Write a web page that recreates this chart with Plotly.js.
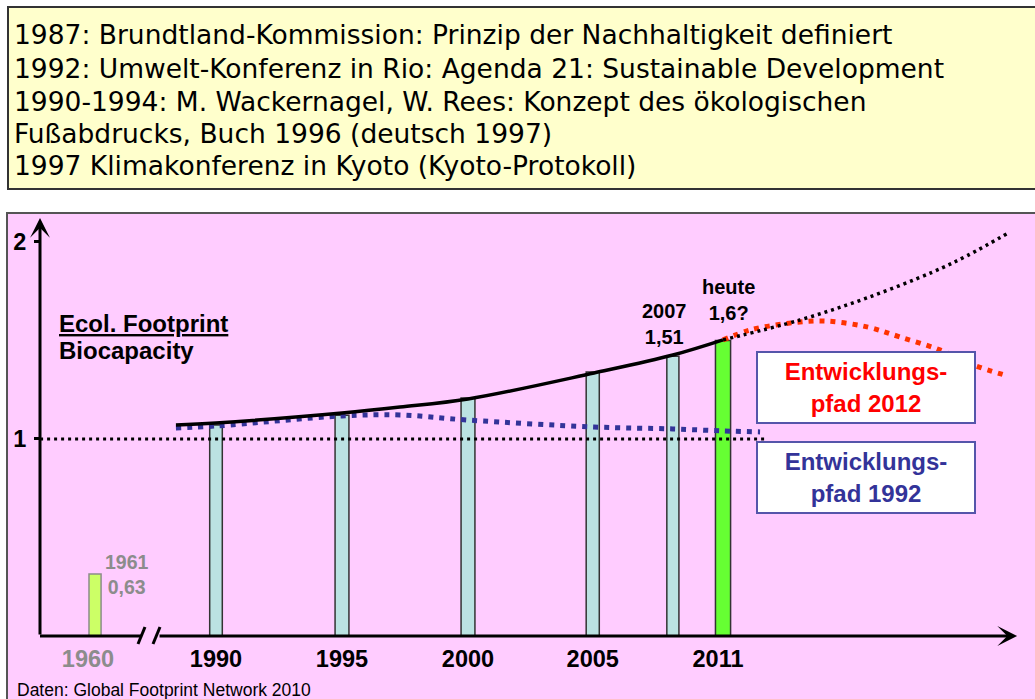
<!DOCTYPE html>
<html>
<head>
<meta charset="utf-8">
<script src="https://cdn.plot.ly/plotly-3.0.1.min.js"></script>
<style>
  html, body { margin: 0; padding: 0; background: #fff; }
  #chart { width: 1035px; height: 699px; }
</style>
</head>
<body>
<div id="chart"></div>
<script>
// Werte (Position = Lage auf der gezeichneten Zeitachse)
const barLabels = ['1961', '1990', '1995', '2000', '2005', '2007', '2011'];
const barPos = [1985.2, 1990, 1995, 2000, 2004.95, 2008.13, 2010.12];
const barValues = [0.315, 1.071, 1.12, 1.208, 1.34, 1.42, 1.50];
const barColors = ['#CCFF66', '#BBE2E2', '#BBE2E2', '#BBE2E2', '#BBE2E2', '#BBE2E2', '#66FF33'];
const barLineColors = ['#8c8c8c', '#333333', '#333333', '#333333', '#333333', '#333333', '#333333'];
const barWidths = [0.48, 0.5, 0.55, 0.55, 0.52, 0.48, 0.6];

const tickPos = [1984.92, 1990, 1995, 2000, 2004.95, 2009.92];
const tickText = ['<span style="color:#8c8c8c">1960</span>', '1990', '1995', '2000', '2005', '2011'];

// Ecol. Footprint (gemessen)
const footX = [1988.41, 1990, 1995, 1997.3, 2000, 2005, 2008.13, 2010.12];
const footY = [1.071, 1.081, 1.132, 1.162, 1.203, 1.335, 1.426, 1.503];

// Fortschreibung (schwarz gepunktet)
const trendX = [2010.12, 2013.17, 2015.83, 2018.45, 2019.8, 2021.51];
const trendY = [1.503, 1.604, 1.716, 1.848, 1.93, 2.051];

// Entwicklungspfad 2012 (rot)
const path2012X = [2010.12, 2011.19, 2012.5, 2014.09, 2015.83, 2017.14, 2018.73, 2020.04, 2021.43];
const path2012Y = [1.503, 1.553, 1.584, 1.599, 1.569, 1.518, 1.452, 1.376, 1.32];

// Entwicklungspfad 1992 (blau)
const path1992X = [1988.41, 1990, 1995, 1997.3, 2000, 2005, 2008.13, 2010.12, 2011.59];
const path1992Y = [1.056, 1.066, 1.117, 1.122, 1.096, 1.061, 1.051, 1.041, 1.036];

// Biocapacity
const bioX = [1983.02, 2011.9];
const bioY = [1, 1];

const yTicks = [1, 2];

const historyLines = [
    '1987: Brundtland-Kommission: Prinzip der Nachhaltigkeit definiert',
    '1992: Umwelt-Konferenz in Rio: Agenda 21: Sustainable Development',
    '1990-1994: M. Wackernagel, W. Rees: Konzept des ökologischen',
    'Fußabdrucks, Buch 1996 (deutsch 1997)',
    '1997 Klimakonferenz in Kyoto (Kyoto-Protokoll)'
];

const W = 1035, H = 699;
const M = { l: 40, r: 0, t: 214, b: 63 };
const xRange = [1983.016, 2022.5];
const yRange = [0, 2.142];
function paperX(p) { return (p - M.l) / (W - M.l - M.r); }
function paperY(p) { return (H - M.b - p) / (H - M.t - M.b); }

const ARIAL = 'Liberation Sans, Arial, sans-serif';

const traces = [
    {
        type: 'bar', x: barPos, y: barValues, width: barWidths,
        marker: { color: barColors, line: { color: barLineColors, width: 1.5 } },
        hoverinfo: 'skip', name: 'Ecol. Footprint'
    },
    {
        type: 'scatter', mode: 'lines', x: path1992X, y: path1992Y,
        line: { color: '#333399', width: 5, dash: '5px,6px', shape: 'spline' },
        name: 'Entwicklungspfad 1992'
    },
    {
        type: 'scatter', mode: 'lines', x: bioX, y: bioY,
        line: { color: '#000000', width: 3, dash: '3px,4px' },
        name: 'Biocapacity'
    },
    {
        type: 'scatter', mode: 'lines', x: footX, y: footY,
        line: { color: '#000000', width: 3.5, shape: 'spline' },
        name: 'Ecol. Footprint'
    },
    {
        type: 'scatter', mode: 'lines', x: path2012X, y: path2012Y,
        line: { color: '#FF3300', width: 5, dash: '5px,6px', shape: 'spline' },
        name: 'Entwicklungspfad 2012'
    },
    {
        type: 'scatter', mode: 'lines', x: trendX, y: trendY,
        line: { color: '#000000', width: 3.5, dash: '3px,4px', shape: 'spline' },
        name: 'Trend'
    }
];

// Text im gelben Kasten, eine Zeile je Annotation
const historyY = [35, 68, 101, 133, 166];
const annotations = historyLines.map((line, i) => ({
    xref: 'paper', yref: 'paper', x: paperX(12), y: paperY(historyY[i]),
    xanchor: 'left', yanchor: 'middle', align: 'left', showarrow: false,
    text: line,
    font: { family: 'DejaVu Sans, sans-serif', size: 26.5, color: '#000' }
}));

annotations.push(
    // Achsen mit Pfeilspitzen
    {
        xref: 'x', yref: 'y', axref: 'x', ayref: 'y',
        x: xRange[0], y: 2.122, ax: xRange[0], ay: 0, text: '',
        showarrow: true, arrowhead: 3, arrowsize: 1.1, arrowwidth: 3, arrowcolor: '#000'
    },
    {
        xref: 'x', yref: 'y', axref: 'x', ayref: 'y',
        x: 2021.79, y: 0, ax: 1987.7, ay: 0, text: '',
        showarrow: true, arrowhead: 3, arrowsize: 1.1, arrowwidth: 3, arrowcolor: '#000'
    },
    // Beschriftungen an den Balken
    {
        x: barPos[5], y: barValues[5], xshift: -8, yshift: 6, yanchor: 'bottom',
        text: '<b>2007<br>1,51</b>', showarrow: false,
        font: { family: ARIAL, size: 20, color: '#000' }
    },
    {
        x: barPos[6], y: barValues[6], xshift: 5, yshift: 14, yanchor: 'bottom',
        text: '<b>heute<br>1,6?</b>', showarrow: false,
        font: { family: ARIAL, size: 20, color: '#000' }
    },
    {
        x: barPos[0], y: barValues[0], xshift: 32, yshift: -1, yanchor: 'middle',
        text: '<b>1961<br>0,63</b>', showarrow: false,
        font: { family: ARIAL, size: 19.5, color: '#8c8c8c' }
    },
    // Legende links
    {
        xref: 'paper', yref: 'paper', x: paperX(57), y: paperY(323),
        xanchor: 'left', yanchor: 'middle', showarrow: false,
        text: '<b><u>Ecol. Footprint</u></b>',
        font: { family: ARIAL, size: 24, color: '#000' }
    },
    {
        xref: 'paper', yref: 'paper', x: paperX(57), y: paperY(350),
        xanchor: 'left', yanchor: 'middle', showarrow: false,
        text: '<b>Biocapacity</b>',
        font: { family: ARIAL, size: 24, color: '#000' }
    },
    // Kaesten rechts
    {
        xref: 'paper', yref: 'paper', x: paperX(866), y: paperY(387.5),
        xanchor: 'center', yanchor: 'middle', showarrow: false,
        width: 216, height: 69, borderpad: 0, borderwidth: 2,
        bordercolor: '#5555aa', bgcolor: '#ffffff',
        text: '<b>Entwicklungs-<br>pfad 2012</b>',
        font: { family: ARIAL, size: 24, color: '#FF0000' }
    },
    {
        xref: 'paper', yref: 'paper', x: paperX(866), y: paperY(477),
        xanchor: 'center', yanchor: 'middle', showarrow: false,
        width: 216, height: 69, borderpad: 0, borderwidth: 2,
        bordercolor: '#5555aa', bgcolor: '#ffffff',
        text: '<b>Entwicklungs-<br>pfad 1992</b>',
        font: { family: ARIAL, size: 24, color: '#333399' }
    },
    // Quelle
    {
        xref: 'paper', yref: 'paper', x: paperX(15), y: paperY(690),
        xanchor: 'left', yanchor: 'middle', showarrow: false,
        text: 'Daten: Global Footprint Network 2010',
        font: { family: ARIAL, size: 17.5, color: '#000' }
    }
);

const shapes = [
    // gelber Kasten oben
    {
        type: 'rect', xref: 'paper', yref: 'paper', layer: 'below',
        x0: paperX(8), x1: paperX(1045), y0: paperY(189), y1: paperY(7),
        fillcolor: '#FFFFCC', line: { color: '#333333', width: 2 }
    },
    // rosa Diagrammflaeche
    {
        type: 'rect', xref: 'paper', yref: 'paper', layer: 'below',
        x0: paperX(7), x1: paperX(1045), y0: paperY(710), y1: paperY(213),
        fillcolor: '#FFCCFF', line: { color: '#555555', width: 2 }
    },
    // linkes Stueck der x-Achse
    {
        type: 'line', xref: 'paper', yref: 'paper',
        x0: paperX(40), x1: paperX(142), y0: paperY(636), y1: paperY(636),
        line: { color: '#000', width: 3 }
    },
    // Achsenbruch //
    {
        type: 'line', xref: 'paper', yref: 'paper',
        x0: paperX(138), x1: paperX(145), y0: paperY(644), y1: paperY(627),
        line: { color: '#000', width: 3 }
    },
    {
        type: 'line', xref: 'paper', yref: 'paper',
        x0: paperX(153), x1: paperX(160), y0: paperY(644), y1: paperY(627),
        line: { color: '#000', width: 3 }
    }
];

const layout = {
    width: W, height: H,
    margin: M,
    paper_bgcolor: '#ffffff',
    plot_bgcolor: 'rgba(0,0,0,0)',
    showlegend: false,
    xaxis: {
        range: xRange, showgrid: false, zeroline: false, showline: false,
        tickmode: 'array', tickvals: tickPos, ticktext: tickText, ticks: '',
        tickfont: { family: ARIAL, size: 23.5, color: '#000', weight: 'bold' },
        ticklabelstandoff: 6, fixedrange: true
    },
    yaxis: {
        range: yRange, showgrid: false, zeroline: false, showline: false,
        tickmode: 'array', tickvals: yTicks, ticktext: yTicks.map(String),
        ticks: 'outside', ticklen: 5, tickwidth: 3, tickcolor: '#000',
        tickfont: { family: ARIAL, size: 23.5, color: '#000', weight: 'bold' },
        ticklabelstandoff: 3, fixedrange: true
    },
    bargap: 0,
    shapes: shapes,
    annotations: annotations
};

Plotly.newPlot('chart', traces, layout, { displayModeBar: false, staticPlot: true });
</script>
</body>
</html>
